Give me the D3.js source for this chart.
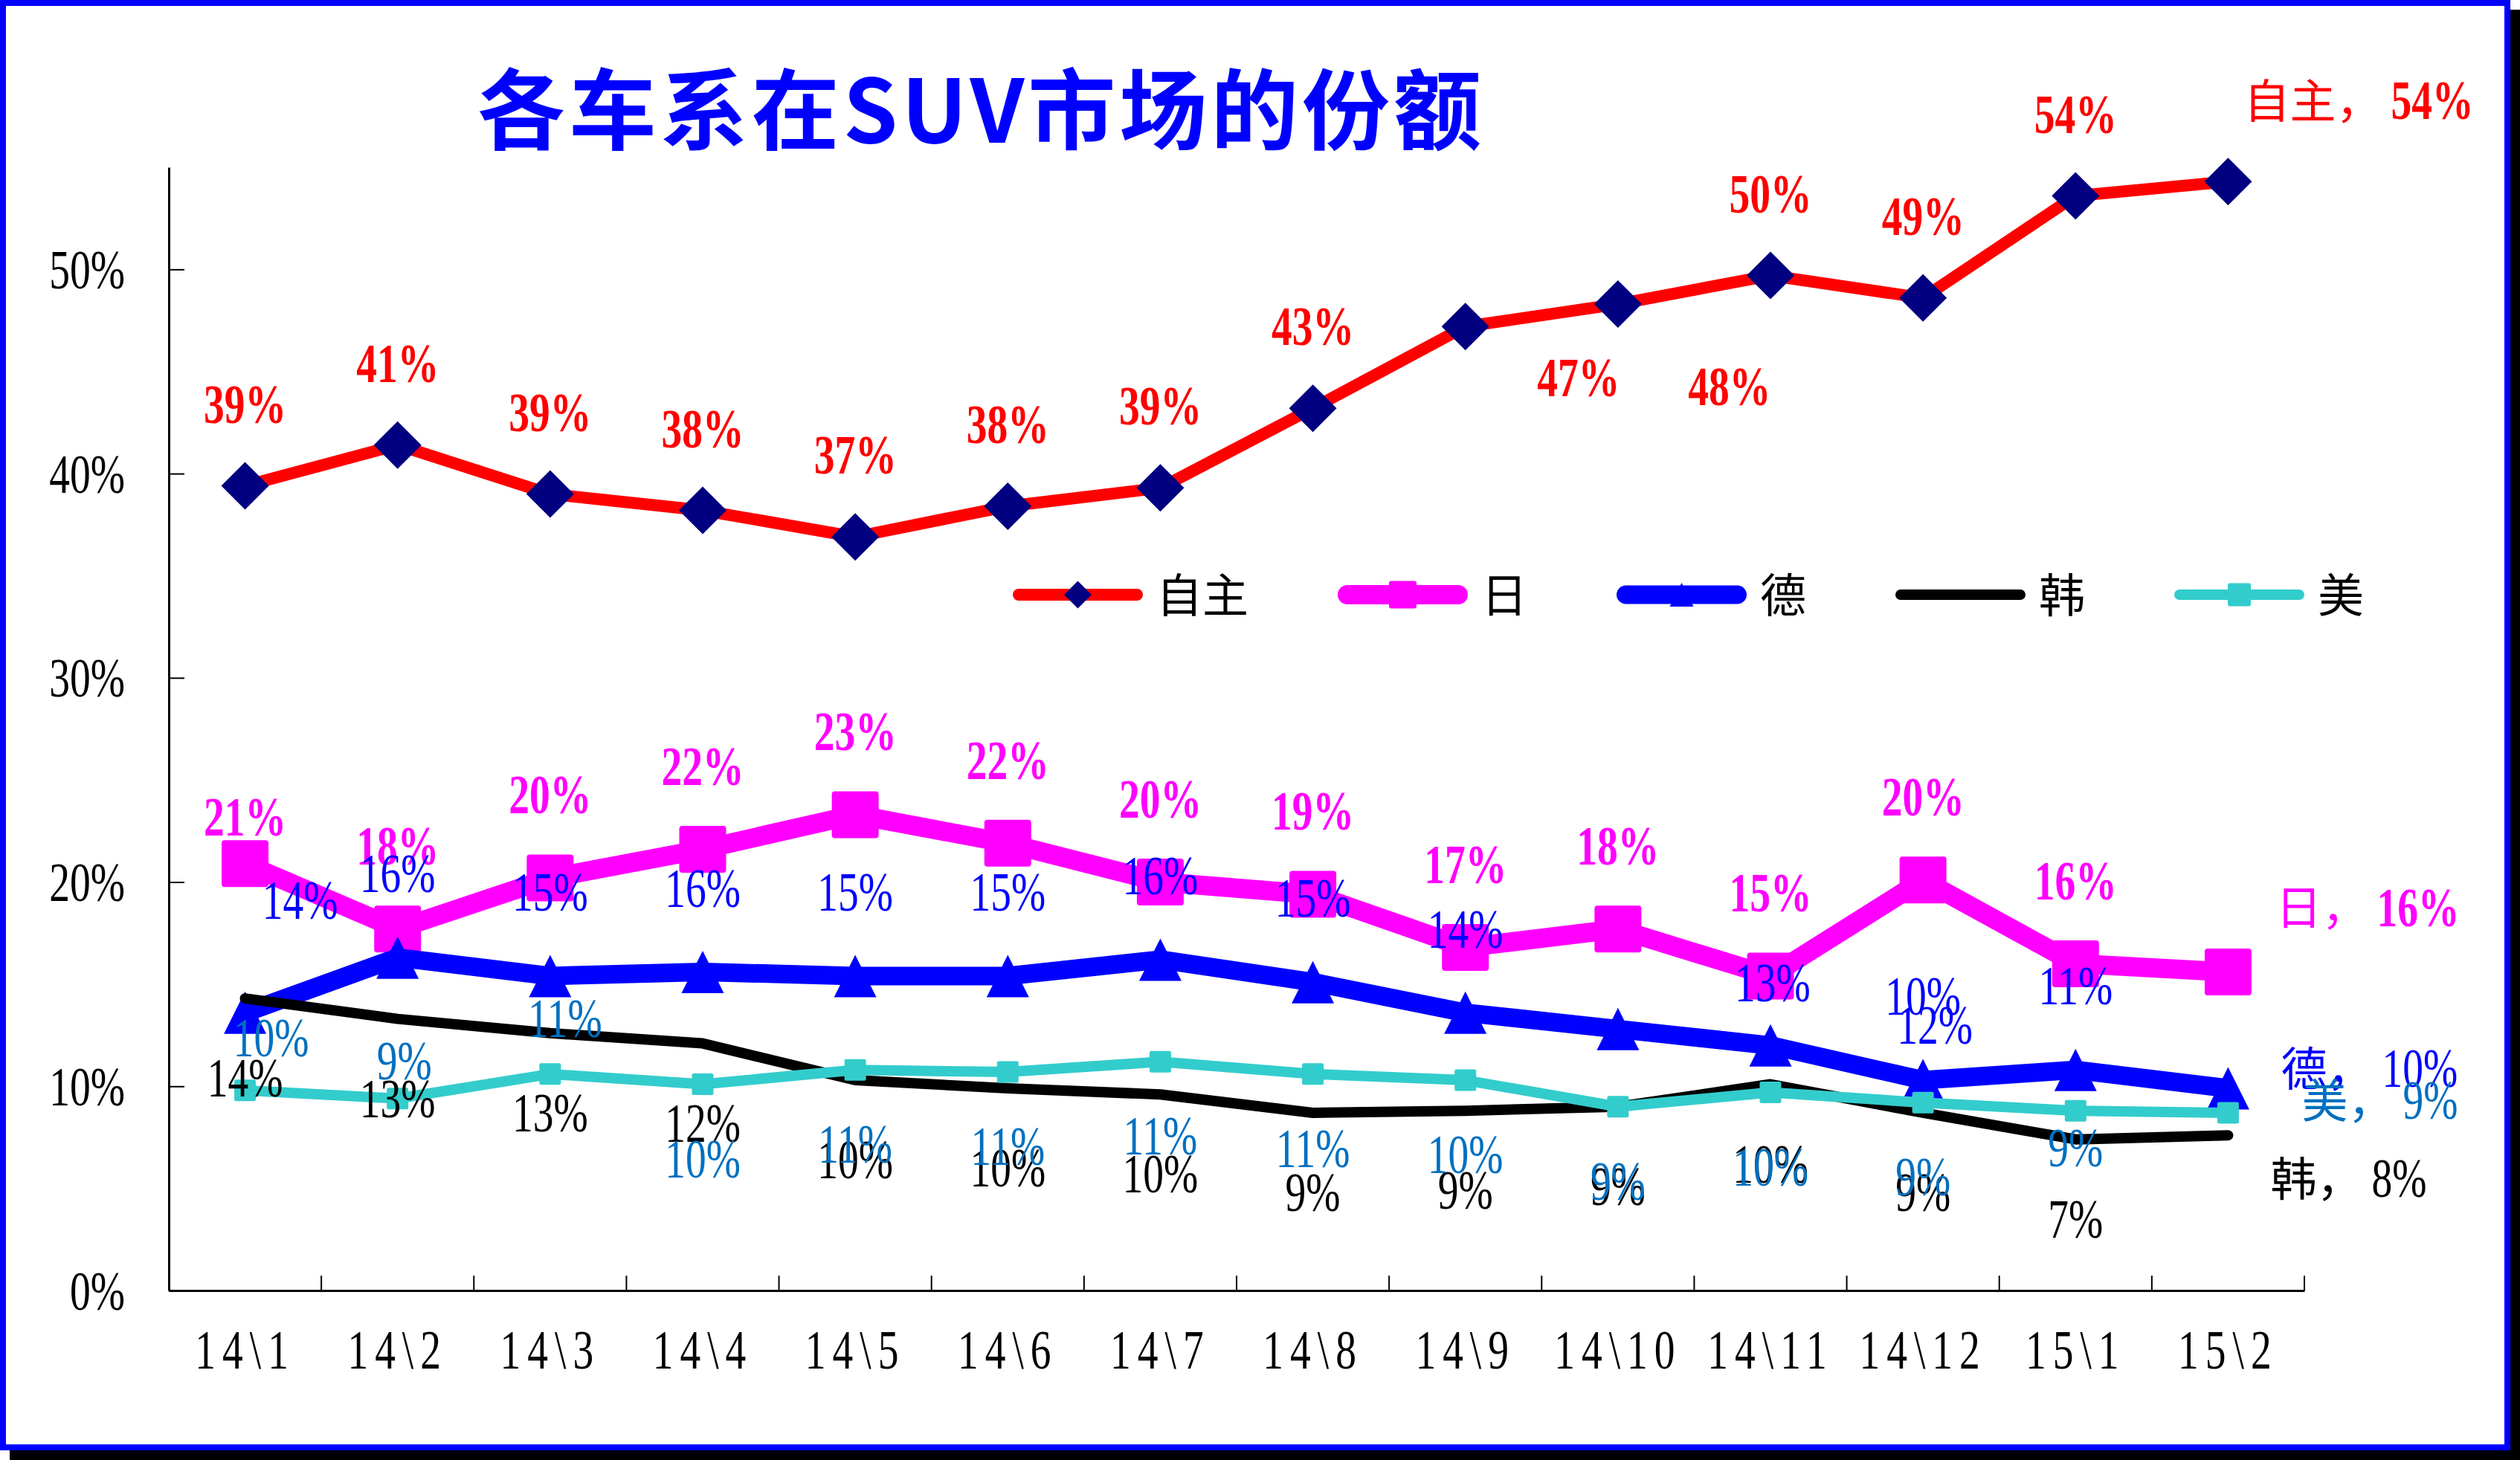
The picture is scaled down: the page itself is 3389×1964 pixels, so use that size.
<!DOCTYPE html>
<html><head><meta charset="utf-8">
<script src="https://cdn.jsdelivr.net/npm/d3@7"></script>
<style>body{margin:0;background:#fff}svg{display:block}</style>
</head><body>
<script>
// ---------------- data ----------------
const categories = ["14\\1","14\\2","14\\3","14\\4","14\\5","14\\6","14\\7","14\\8","14\\9","14\\10","14\\11","14\\12","15\\1","15\\2"];
const seriesNames = ["自主","日","德","韩","美"];
const ziZhu = [0.394,0.414,0.390,0.382,0.369,0.384,0.393,0.432,0.472,0.483,0.497,0.486,0.536,0.543];
const ri    = [0.209,0.177,0.202,0.216,0.233,0.219,0.200,0.194,0.168,0.177,0.154,0.201,0.160,0.156];
const de    = [0.136,0.163,0.154,0.156,0.154,0.154,0.162,0.151,0.136,0.128,0.120,0.103,0.108,0.099];
const han   = [0.143,0.133,0.126,0.121,0.103,0.099,0.096,0.087,0.088,0.090,0.101,0.087,0.074,0.076];
const mei   = [0.098,0.094,0.106,0.101,0.108,0.107,0.112,0.106,0.103,0.090,0.097,0.092,0.088,0.087];
const yTicks = [0,0.1,0.2,0.3,0.4,0.5];
const titleText = "各车系在SUV市场的份额";

// ---------------- layout / style ----------------
const W = 3389, H = 1964;
const plot = {left:227, right:3099, top:225, bottom:1736};
const NUM_FONT = "'Liberation Serif','Times New Roman',serif";
const CJK_FONT = "'Noto Sans CJK SC',sans-serif";
const NUM_SIZE = 74, NUM_SX = 0.75, CJK_SIZE = 62;

const styles = [
  {color:"#FF0000", width:16, marker:"diamond", mColor:"#000080", mSize:64, legSize:37, labelColor:"#FF0000", bold:true,  dy:-110,
   over:{8:[152,69], 9:[150,111]}, end:[21,-109]},
  {color:"#FF00FF", width:26, marker:"square",  mColor:"#FF00FF", mSize:63, legSize:37, labelColor:"#FF00FF", bold:true,  dy:-112,
   over:{0:[0,-63]}, end:[64,-87]},
  {color:"#0000FF", width:25, marker:"triangle",mColor:"#0000FF", mSize:57, legSize:32, labelColor:"#0000FF", bold:false, dy:-113,
   over:{0:[74,-152], 9:[208,-63], 10:[221,-28]}, end:[71,-27]},
  {color:"#000000", width:14, marker:null,      mColor:null,      mSize:0,  legSize:0,  labelColor:"#000000", bold:false, dy:107,
   over:{}, end:[57,58]},
  {color:"#33CCCC", width:14, marker:"square",  mColor:"#33CCCC", mSize:29, legSize:31, labelColor:"#0070C0", bold:false, dy:100,
   over:{0:[35,-71], 1:[9,-51], 2:[20,-75], 12:[0,50]}, end:[99,-17]}
];
const seriesValues = [ziZhu, ri, de, han, mei];
const series = seriesNames.map((n,i)=>Object.assign({name:n, values:seriesValues[i]}, styles[i]));

const svg = d3.select("body").append("svg").attr("width",W).attr("height",H);

// shadow + frame
svg.append("rect").attr("x",13).attr("y",13).attr("width",W-13).attr("height",H-13).attr("fill","#000");
svg.append("rect").attr("x",4).attr("y",4).attr("width",3368).attr("height",1943)
  .attr("fill","#fff").attr("stroke","#0000FF").attr("stroke-width",8);

const x = d3.scaleBand().domain(categories).range([plot.left, plot.right]).padding(0);
const y = d3.scaleLinear().domain([0,0.55]).range([plot.bottom, plot.top]);
const cx = c => x(c) + x.bandwidth()/2;
const fmt = d3.format(".0%");

function numText(g, px, py, s, color, bold, anchor){
  return g.append("text")
    .attr("transform", `translate(${px},${py}) scale(${NUM_SX},1)`)
    .attr("dy","0.34em")
    .attr("text-anchor", anchor || "middle")
    .style("font-family", NUM_FONT)
    .style("font-size", NUM_SIZE+"px")
    .style("font-weight", bold ? "bold" : "normal")
    .attr("fill", color)
    .text(s);
}

// title
svg.append("text")
  .attr("x", 642).attr("y", 192)
  .attr("textLength", 1350).attr("lengthAdjust","spacing")
  .style("font-family", CJK_FONT).style("font-size","118px").style("font-weight","bold")
  .attr("fill","#0000FF")
  .text(titleText);

// y axis
const gy = svg.append("g").attr("transform",`translate(${plot.left},0)`)
  .call(d3.axisLeft(y).tickValues(yTicks).tickFormat(fmt).tickSize(-21).tickSizeOuter(0));
gy.select(".domain").attr("stroke","#000").attr("stroke-width",3);
gy.selectAll(".tick line").attr("stroke","#000").attr("stroke-width",2);
gy.selectAll(".tick text")
  .attr("x",0).attr("dy","0.34em").attr("text-anchor","end")
  .attr("transform",`translate(-59,0) scale(${NUM_SX},1)`)
  .style("font-family",NUM_FONT).style("font-size",NUM_SIZE+"px").attr("fill","#000");

// x axis
const gx = svg.append("g").attr("transform",`translate(0,${plot.bottom})`)
  .call(d3.axisBottom(x).tickSize(0).tickSizeOuter(0));
gx.select(".domain").attr("stroke","#000").attr("stroke-width",3);
gx.selectAll(".tick text")
  .attr("y",0).attr("dy","0.34em").attr("text-anchor","middle")
  .attr("transform",`translate(0,80) scale(${NUM_SX},1)`)
  .style("font-family",NUM_FONT).style("font-size",NUM_SIZE+"px")
  .style("letter-spacing","12px").attr("fill","#000");
gx.selectAll("line.bound").data(categories).join("line").attr("class","bound")
  .attr("x1",d=>x(d)+x.bandwidth()).attr("x2",d=>x(d)+x.bandwidth())
  .attr("y1",0).attr("y2",-20).attr("stroke","#000").attr("stroke-width",2);

// marker path generator
function markerPath(type, s){
  const h = s/2;
  if(type==="diamond") return `M0,${-h}L${h},0L0,${h}L${-h},0Z`;
  if(type==="triangle") return `M0,${-h}L${h},${h}L${-h},${h}Z`;
  if(type==="square") {
    const r = Math.min(4, s*0.08);
    return `M${-h+r},${-h}H${h-r}Q${h},${-h} ${h},${-h+r}V${h-r}Q${h},${h} ${h-r},${h}H${-h+r}Q${-h},${h} ${-h},${h-r}V${-h+r}Q${-h},${-h} ${-h+r},${-h}Z`;
  }
  return "";
}

// series lines + markers
const line = d3.line().x((d,i)=>cx(categories[i])).y(d=>y(d));
series.forEach(s=>{
  const g = svg.append("g");
  g.append("path").attr("d", line(s.values)).attr("fill","none")
    .attr("stroke", s.color).attr("stroke-width", s.width)
    .attr("stroke-linejoin","round").attr("stroke-linecap","round");
  if(s.marker){
    g.selectAll("path.m").data(s.values).join("path").attr("class","m")
      .attr("d", markerPath(s.marker, s.mSize))
      .attr("transform",(d,i)=>`translate(${cx(categories[i])},${y(d)})`)
      .attr("fill", s.mColor);
  }
});

// data labels
const lab = svg.append("g");
series.forEach(s=>{
  s.values.forEach((v,i)=>{
    const px = cx(categories[i]), py = y(v);
    if(i === s.values.length-1){
      const lx = px + s.end[0], ly = py + s.end[1];
      lab.append("text").attr("x", lx).attr("y", ly + 0.38*CJK_SIZE)
        .style("font-family", CJK_FONT).style("font-size", CJK_SIZE+"px")
        .attr("fill", s.labelColor).text(s.name + "，");
      numText(lab, lx + (s.name.length+1)*CJK_SIZE + 12, ly, fmt(v), s.labelColor, s.bold, "start");
    } else {
      const o = s.over[i] || [0, s.dy];
      numText(lab, px + o[0], py + o[1], fmt(v), s.labelColor, s.bold, "middle");
    }
  });
});

// legend
const leg = svg.append("g");
let lx = 1362;
const ly = 800;
series.forEach(s=>{
  const cap = s.width/2;
  leg.append("line").attr("x1", lx+cap).attr("x2", lx+175-cap).attr("y1", ly).attr("y2", ly)
    .attr("stroke", s.color).attr("stroke-width", s.width).attr("stroke-linecap","round");
  if(s.marker){
    leg.append("path").attr("d", markerPath(s.marker, s.legSize))
      .attr("transform",`translate(${lx+87.5},${ly})`).attr("fill", s.mColor);
  }
  leg.append("text").attr("x", lx+193).attr("y", ly + 0.38*CJK_SIZE)
    .style("font-family", CJK_FONT).style("font-size", CJK_SIZE+"px")
    .attr("fill","#000").text(s.name);
  lx = lx + 193 + s.name.length*CJK_SIZE + 120;
});
</script>
</body></html>
